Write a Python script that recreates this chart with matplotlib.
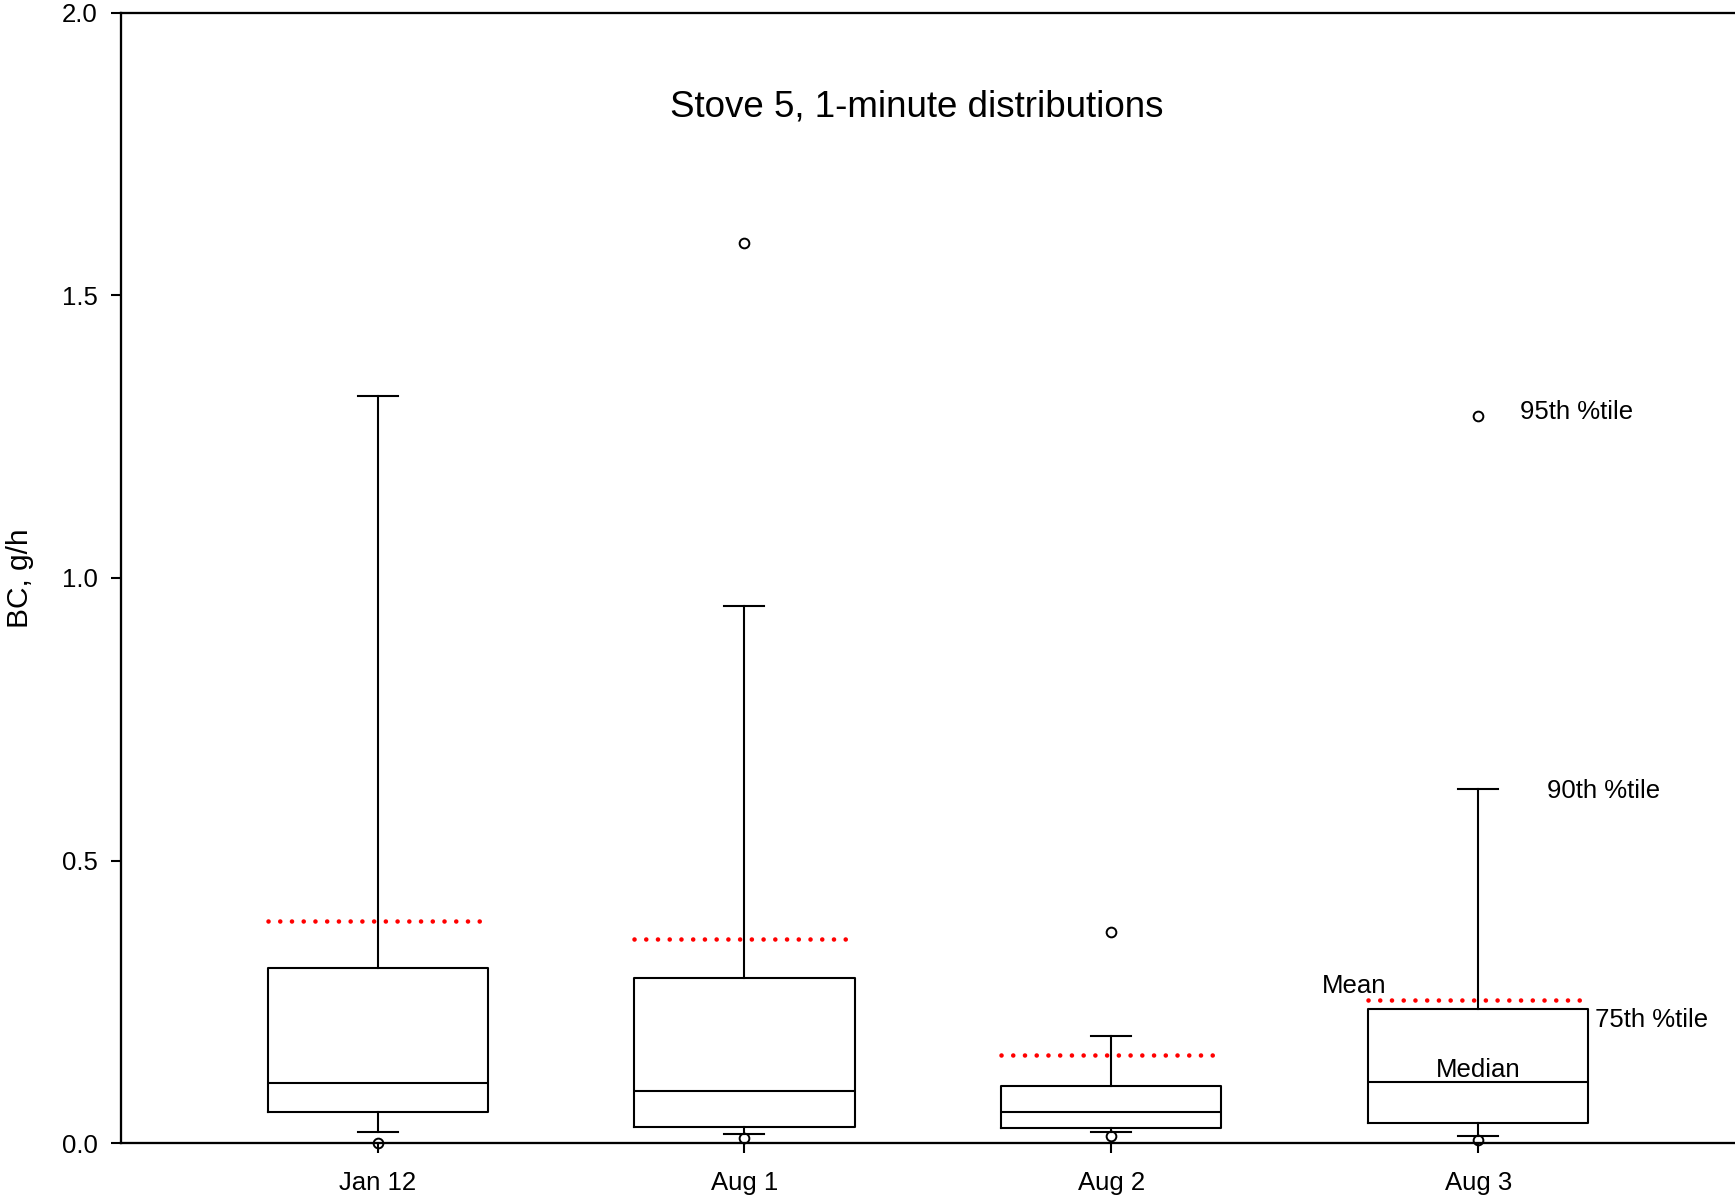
import matplotlib
matplotlib.use('Agg')
import matplotlib.pyplot as plt

plt.rcParams['font.family'] = ['Liberation Sans', 'DejaVu Sans']

# percentile summaries of 1-minute BC emission rates, g/h
dates = ['Jan 12', 'Aug 1', 'Aug 2', 'Aug 3']
p5 = [0.001, 0.010, 0.013, 0.006]
p10 = [0.020, 0.016, 0.020, 0.013]
p25 = [0.056, 0.029, 0.027, 0.036]
p50 = [0.107, 0.093, 0.056, 0.108]
p75 = [0.310, 0.292, 0.102, 0.238]
p90 = [1.322, 0.950, 0.190, 0.627]
p95 = [None, 1.592, 0.374, 1.287]
means = [0.394, 0.361, 0.156, 0.253]

stats = []
for i in range(len(dates)):
    fl = [v for v in (p5[i], p95[i]) if v is not None]
    stats.append(dict(label=dates[i], med=p50[i], q1=p25[i], q3=p75[i],
                      whislo=p10[i], whishi=p90[i], fliers=fl, mean=means[i]))

fig = plt.figure(figsize=(17.35, 11.97), dpi=100)
ax = fig.add_axes([0.0696, 0.0449, 0.9304, 0.9446])

lw = 1.5
parts = ax.bxp(stats, positions=[1, 2, 3, 4], widths=0.6, capwidths=0.109,
               showmeans=True, meanline=True,
               boxprops=dict(color='black', linewidth=lw),
               medianprops=dict(color='black', linewidth=lw),
               whiskerprops=dict(color='black', linewidth=lw),
               capprops=dict(color='black', linewidth=lw),
               flierprops=dict(marker='o', markerfacecolor='none', markeredgecolor='black',
                               markersize=7, markeredgewidth=1.4),
               meanprops=dict(color='#ff0000', linewidth=3.3, linestyle=(0, (0.01, 2.55)),
                              dash_capstyle='round'))
# 5th percentile circles sit on the axis, keep them whole
for f in parts['fliers']:
    f.set_clip_on(False)
    f.set_zorder(3)

ax.set_xlim(0.3, 4.7)
ax.set_ylim(0, 2.0)
ax.set_yticks([0, 0.5, 1.0, 1.5, 2.0])
ax.set_yticklabels(['0.0', '0.5', '1.0', '1.5', '2.0'])
ax.tick_params(axis='both', labelsize=18.5, length=7.2, width=1.5, direction='out')
ax.tick_params(axis='x', pad=13)
ax.tick_params(axis='y', pad=9.5)
for s in ['left', 'bottom', 'top']:
    ax.spines[s].set_linewidth(1.65)
ax.spines['right'].set_visible(False)

ax.set_ylabel('BC, g/h', fontsize=21.5)
ax.yaxis.set_label_coords(-0.0535, 0.5)

ax.text(0.4934, 0.908, 'Stove 5, 1-minute distributions', transform=ax.transAxes,
        ha='center', va='baseline', fontsize=26.5)

# key to the box elements, next to the last box
fs = 18.5
ax.text(3.749, 0.2653, 'Mean', ha='right', va='baseline', fontsize=fs)
ax.text(4.318, 0.2063, '75th %tile', ha='left', va='baseline', fontsize=fs)
ax.text(4.0, 0.1178, 'Median', ha='center', va='baseline', fontsize=fs)
ax.text(4.114, 1.2807, '95th %tile', ha='left', va='baseline', fontsize=fs)
ax.text(4.188, 0.6114, '90th %tile', ha='left', va='baseline', fontsize=fs)

fig.savefig('out.png', dpi=100)
